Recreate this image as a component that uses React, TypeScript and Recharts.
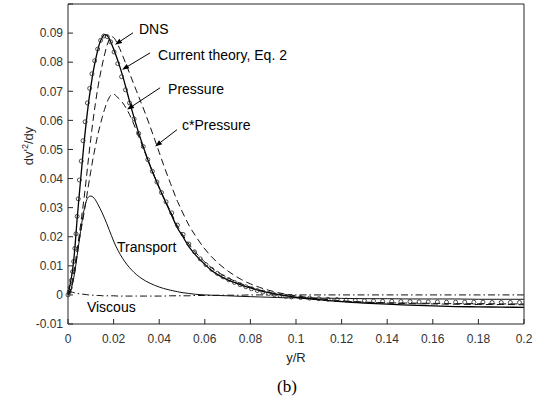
import React from 'react';
import { ComposedChart, Line, Scatter, XAxis, YAxis, ReferenceLine, ReferenceDot } from 'recharts';

// y/R grid shared by the model curves
const xs = [
  0, 0.001, 0.002, 0.003, 0.004, 0.005, 0.006, 0.007, 0.008, 0.009,
  0.01, 0.011, 0.012, 0.013, 0.014, 0.015, 0.016, 0.017, 0.018, 0.019,
  0.02, 0.022, 0.024, 0.026, 0.028, 0.03, 0.032, 0.034, 0.036, 0.038,
  0.04, 0.042, 0.045, 0.048, 0.05, 0.053, 0.056, 0.06, 0.063, 0.066,
  0.07, 0.073, 0.076, 0.08, 0.084, 0.088, 0.092, 0.096, 0.1, 0.11,
  0.12, 0.13, 0.14, 0.15, 0.16, 0.17, 0.18, 0.19, 0.2,
];

const theory = [
  0, 0.004, 0.0085, 0.016, 0.026, 0.035, 0.0435, 0.052, 0.0595, 0.066,
  0.0715, 0.0765, 0.0805, 0.084, 0.0868, 0.0885, 0.0895, 0.0893, 0.0882, 0.0865,
  0.0845, 0.0802, 0.0752, 0.0695, 0.0636, 0.0582, 0.0533, 0.0487, 0.0444, 0.0405,
  0.0368, 0.0333, 0.0282, 0.023, 0.0205, 0.0166, 0.0137, 0.0105, 0.0084, 0.0068,
  0.0052, 0.0043, 0.0034, 0.0024, 0.0015, 0.0008, 0.0002, -0.0003, -0.0008, -0.0016,
  -0.0023, -0.0028, -0.0032, -0.0035, -0.0038, -0.004, -0.0041, -0.0042, -0.0043,
];

const pressure = [
  0, 0.001, 0.004, 0.008, 0.0135, 0.019, 0.0235, 0.028, 0.0328, 0.0378,
  0.0425, 0.047, 0.051, 0.0548, 0.058, 0.061, 0.0637, 0.066, 0.0677, 0.0688,
  0.069, 0.0677, 0.066, 0.0635, 0.0603, 0.0565, 0.0525, 0.0485, 0.0445, 0.0406,
  0.0369, 0.0335, 0.0286, 0.0237, 0.0211, 0.0175, 0.0146, 0.0113, 0.0093, 0.0077,
  0.0059, 0.0048, 0.0038, 0.0027, 0.0017, 0.0009, 0.0002, -0.0004, -0.0009, -0.0017,
  -0.0022, -0.0025, -0.0027, -0.0028, -0.0029, -0.003, -0.003, -0.0031, -0.0031,
];

const cPressure = [
  0, 0.0015, 0.005, 0.01, 0.0155, 0.021, 0.027, 0.033, 0.0398, 0.047,
  0.0537, 0.06, 0.0657, 0.0708, 0.0752, 0.079, 0.0825, 0.0855, 0.0877, 0.0888,
  0.0885, 0.0858, 0.0822, 0.0782, 0.0742, 0.0702, 0.0662, 0.0622, 0.0579, 0.0535,
  0.049, 0.0445, 0.0382, 0.0322, 0.0288, 0.024, 0.0202, 0.0158, 0.0131, 0.0108,
  0.0083, 0.0067, 0.0053, 0.0038, 0.0026, 0.0016, 0.0008, 0.0002, -0.0003, -0.0013,
  -0.002, -0.0025, -0.0028, -0.003, -0.0031, -0.0032, -0.0033, -0.0033, -0.0034,
];

const transport = [
  0, 0.001, 0.004, 0.008, 0.0135, 0.019, 0.0245, 0.029, 0.0322, 0.0337,
  0.034, 0.0336, 0.0327, 0.0313, 0.0298, 0.0282, 0.0264, 0.0245, 0.0225, 0.0205,
  0.0185, 0.0152, 0.0125, 0.0103, 0.0085, 0.007, 0.0058, 0.0048, 0.004, 0.0033,
  0.0027, 0.0022, 0.0016, 0.0011, 0.0008, 0.0005, 0.0002, 0, -0.0001, -0.0002,
  -0.0003, -0.0004, -0.0005, -0.0006, -0.0007, -0.0008, -0.0009, -0.001, -0.001, -0.0011,
  -0.0012, -0.0013, -0.0013, -0.0014, -0.0014, -0.0014, -0.0015, -0.0015, -0.0015,
];

const viscous = [
  0.0013, 0.0011, 0.0009, 0.0007, 0.0005, 0.0004, 0.0003, 0.0002, 0.0001, 0,
  -0.0001, -0.0001, -0.0002, -0.0002, -0.0002, -0.0003, -0.0003, -0.0003, -0.0003, -0.0003,
  -0.0003, -0.0004, -0.0004, -0.0004, -0.0004, -0.0004, -0.0004, -0.0004, -0.0004, -0.0004,
  -0.0004, -0.0004, -0.0003, -0.0003, -0.0003, -0.0003, -0.0002, -0.0002, -0.0002, -0.0001,
  -0.0001, -0.0001, -0.0001, 0, 0, 0, 0, 0, 0, 0,
  0, 0, 0, 0, 0, 0, 0, 0, 0,
];

// DNS samples (open circles)
const dnsX = [
  0, 0.0005, 0.001, 0.0015, 0.002, 0.0025, 0.003, 0.0035, 0.004, 0.0045,
  0.005, 0.0058, 0.0066, 0.0075, 0.0085, 0.0095, 0.0105, 0.0117, 0.013, 0.0143,
  0.0157, 0.0172, 0.0187, 0.0202, 0.0218, 0.0235, 0.0252, 0.027, 0.029, 0.031,
  0.033, 0.035, 0.037, 0.039, 0.041, 0.043, 0.0455, 0.048, 0.0505, 0.053,
  0.0555, 0.058, 0.0605, 0.063, 0.0655, 0.068, 0.0705, 0.073, 0.0755, 0.078,
  0.0805, 0.083, 0.0855, 0.088, 0.0905, 0.093, 0.0955, 0.098, 0.102, 0.106,
  0.11, 0.114, 0.118, 0.122, 0.126, 0.13, 0.134, 0.138, 0.142, 0.146,
  0.15, 0.154, 0.158, 0.162, 0.166, 0.17, 0.174, 0.178, 0.182, 0.186,
  0.19, 0.194, 0.198,
];
const dnsY = [
  0, 0.001, 0.0025, 0.005, 0.008, 0.0115, 0.016, 0.021, 0.027, 0.033,
  0.0395, 0.046, 0.053, 0.0595, 0.066, 0.071, 0.076, 0.0805, 0.0845, 0.0875,
  0.089, 0.0888, 0.087, 0.0835, 0.0795, 0.075, 0.0705, 0.066, 0.0605, 0.0555,
  0.051, 0.0465, 0.0425, 0.0388, 0.0352, 0.032, 0.0282, 0.024, 0.0208, 0.0175,
  0.0148, 0.0124, 0.0104, 0.0088, 0.0074, 0.0062, 0.0052, 0.0043, 0.0035, 0.0028,
  0.0021, 0.0015, 0.001, 0.0005, 0.0001, -0.0002, -0.0005, -0.0007, -0.0009, -0.0011,
  -0.0013, -0.0015, -0.0016, -0.0018, -0.0019, -0.002, -0.0021, -0.0022, -0.0022, -0.0023,
  -0.0023, -0.0024, -0.0024, -0.0024, -0.0025, -0.0025, -0.0025, -0.0025, -0.0025, -0.0026,
  -0.0026, -0.0026, -0.0026,
];

const xTicks = [0, 0.02, 0.04, 0.06, 0.08, 0.1, 0.12, 0.14, 0.16, 0.18, 0.2];
const yTicks = [-0.01, 0, 0.01, 0.02, 0.03, 0.04, 0.05, 0.06, 0.07, 0.08, 0.09, 0.1];
const yLabelTicks = [-0.01, 0, 0.01, 0.02, 0.03, 0.04, 0.05, 0.06, 0.07, 0.08, 0.09];

// annotation text (data coords of the text baseline start)
const noteText = ['DNS', 'Current theory, Eq. 2', 'Pressure', 'c*Pressure', 'Transport', 'Viscous'];
const noteX = [0.0311, 0.0395, 0.0439, 0.05, 0.0215, 0.0083];
const noteY = [0.0897, 0.0808, 0.0692, 0.0568, 0.0147, -0.0058];

// arrows: tail -> head, data coords
const arrowX1 = [0.0285, 0.036, 0.0404, 0.0478];
const arrowY1 = [0.0901, 0.0832, 0.0712, 0.0568];
const arrowX2 = [0.0206, 0.0237, 0.0259, 0.0382];
const arrowY2 = [0.086, 0.0774, 0.0637, 0.051];

const chartData = xs.map((x, i) => ({
  x,
  theory: theory[i],
  pressure: pressure[i],
  cPressure: cPressure[i],
  transport: transport[i],
  viscous: viscous[i],
}));
const dnsData = dnsX.map((x, i) => ({ x, y: dnsY[i] }));

const FONT = '"Liberation Sans", Arial, sans-serif';
const AXIS = '#262626';

const fmt = (v: number) => String(parseFloat(v.toFixed(3)));

const Arrow = (p: any) => {
  const { x1, y1, x2, y2 } = p;
  const dx = x2 - x1;
  const dy = y2 - y1;
  const len = Math.sqrt(dx * dx + dy * dy) || 1;
  const ux = dx / len;
  const uy = dy / len;
  const hl = 7;
  const hw = 2.6;
  const bx = x2 - ux * hl;
  const by = y2 - uy * hl;
  return (
    <g>
      <line x1={x1} y1={y1} x2={bx} y2={by} stroke="#000" strokeWidth={1} />
      <polygon
        points={`${x2},${y2} ${bx - uy * hw},${by + ux * hw} ${bx + uy * hw},${by - ux * hw}`}
        fill="#000"
      />
    </g>
  );
};

const noteShape = (text: string) => (p: any) => (
  <text x={p.cx} y={p.cy} fontSize={14} fontFamily={FONT} fill="#000">
    {text}
  </text>
);

const DnsCircle = (p: any) => (
  <circle cx={p.cx} cy={p.cy} r={2} fill="none" stroke="#222" strokeWidth={0.8} />
);

const XLabel = (p: any) => {
  const vb = p.viewBox || {};
  const cx = vb.x + vb.width / 2;
  return (
    <g>
      <text x={cx} y={vb.y + 38} textAnchor="middle" fontSize={13} fontFamily={FONT} fill="#262626">
        y/R
      </text>
      <text x={cx - 9} y={vb.y + 68} textAnchor="middle" fontSize={17} fontFamily='"Liberation Serif", "Times New Roman", serif' fill="#000">
        (b)
      </text>
    </g>
  );
};

const YLabel = () => (
  <text
    x={33}
    y={146}
    transform="rotate(-90 33 146)"
    textAnchor="middle"
    fontSize={13}
    fontFamily={FONT}
    fill="#262626"
  >
    dv'<tspan dy={-5} fontSize={9}>2</tspan>
    <tspan dy={5}>/dy</tspan>
  </text>
);

const App: React.FC = () => {
  return (
    <div style={{ position: 'absolute', left: 0, top: 0, width: 540, height: 401, background: '#fff' }}>
      <ComposedChart
        width={540}
        height={401}
        data={chartData}
        margin={{ top: 3, right: 15, left: 0, bottom: 37 }}
        style={{ fontFamily: FONT }}
      >
        <XAxis
          dataKey="x"
          type="number"
          domain={[0, 0.2]}
          ticks={xTicks}
          interval={0}
          tickFormatter={fmt}
          tickSize={-5}
          tickMargin={15}
          height={40}
          stroke={AXIS}
          tick={{ fontSize: 12, fill: '#333', fontFamily: FONT }}
          label={<XLabel />}
        />
        <XAxis
          xAxisId="top"
          dataKey="x"
          orientation="top"
          type="number"
          domain={[0, 0.2]}
          ticks={xTicks}
          interval={0}
          tick={false}
          tickSize={-5}
          height={1}
          stroke={AXIS}
        />
        <YAxis
          type="number"
          domain={[-0.01, 0.1]}
          ticks={yTicks}
          interval={0}
          tickFormatter={(v: number) => (yLabelTicks.includes(v) ? fmt(v) : '')}
          tickSize={-5}
          tickMargin={10}
          width={68}
          stroke={AXIS}
          tick={{ fontSize: 12, fill: '#333', fontFamily: FONT }}
          label={<YLabel />}
        />
        <YAxis
          yAxisId="right"
          orientation="right"
          type="number"
          domain={[-0.01, 0.1]}
          ticks={yTicks}
          interval={0}
          tick={false}
          tickSize={-5}
          width={1}
          stroke={AXIS}
        />

        {/* invisible series so the box axes (top / right) are drawn */}
        <Line xAxisId="top" yAxisId="right" dataKey="theory" stroke="none" dot={false} activeDot={false} isAnimationActive={false} />

        <Line dataKey="cPressure" type="monotone" stroke="#111" strokeWidth={1} strokeDasharray="7 4" dot={false} isAnimationActive={false} />
        <Line dataKey="pressure" type="monotone" stroke="#111" strokeWidth={1} strokeDasharray="7 4" dot={false} isAnimationActive={false} />
        <Line dataKey="viscous" type="monotone" stroke="#111" strokeWidth={1} strokeDasharray="7 3 1.5 3" dot={false} isAnimationActive={false} />
        <Line dataKey="transport" type="monotone" stroke="#111" strokeWidth={1} dot={false} isAnimationActive={false} />
        <Line dataKey="theory" type="monotone" stroke="#000" strokeWidth={1.3} dot={false} isAnimationActive={false} />
        <Scatter data={dnsData} dataKey="y" shape={DnsCircle} isAnimationActive={false} />

        {arrowX1.map((x, i) => (
          <ReferenceLine
            key={`arrow-${i}`}
            segment={[{ x, y: arrowY1[i] }, { x: arrowX2[i], y: arrowY2[i] }]}
            shape={Arrow}
            ifOverflow="visible"
          />
        ))}
        {noteText.map((t, i) => (
          <ReferenceDot
            key={`note-${i}`}
            x={noteX[i]}
            y={noteY[i]}
            r={0}
            shape={noteShape(t)}
            ifOverflow="visible"
          />
        ))}
      </ComposedChart>
    </div>
  );
};

export default App;
